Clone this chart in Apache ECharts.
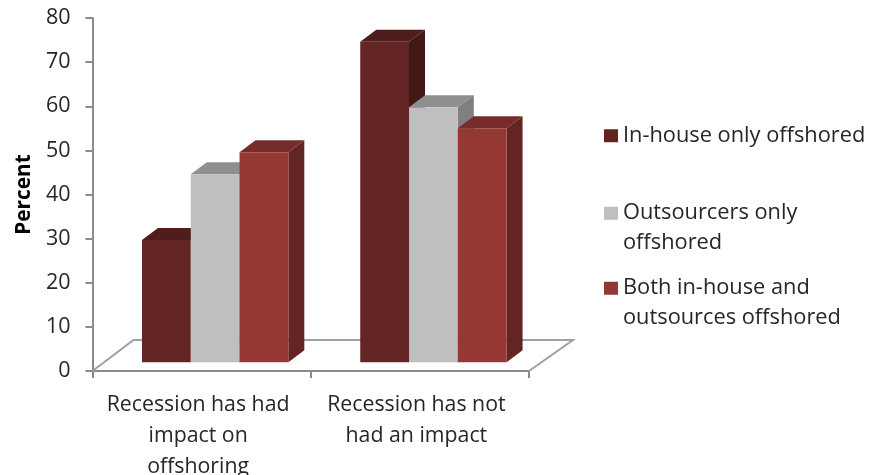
<!DOCTYPE html>
<html><head><meta charset="utf-8">
<style>html,body{margin:0;padding:0;background:#fff}#c{width:871px;height:475px}</style>
<script src="https://cdn.jsdelivr.net/npm/echarts@6/dist/echarts.min.js"></script>
</head><body><div id="c"></div>
<script>
const categories = ['Recession has had\nimpact on\noffshoring', 'Recession has not\nhad an impact'];
const seriesNames = ['In-house only offshored', 'Outsourcers only\noffshored', 'Both in-house and\noutsources offshored'];
const inHouse = [29.7, 74.6];
const outsourcers = [44.6, 59.8];
const both = [49.6, 55];
const yTicks = [0, 80, 10];
const FONT = '"Open Sans"';
const front = ['#632523', '#BFBFBF', '#953735'];
const top_ = ['#4F1D1B', '#8F8F8F', '#772C2A'];
const side = ['#431815', '#7F7F7F', '#632523'];
const BASE = 2, DX = 16, DY = 12;

function barRenderer(k) {
  return function (params, api) {
    const cat = api.value(0), v = api.value(1);
    const cw = api.size([1, 0])[0];
    const w = cw * 0.2235, off = cw * 0.062;
    const c = api.coord([cat, v]), b = api.coord([cat, BASE]);
    const x0 = c[0] + off - 1.5 * w + k * w, x1 = x0 + w, y0 = c[1], y1 = b[1];
    const poly = (points, fill) => ({ type: 'polygon', shape: { points }, style: { fill } });
    return { type: 'group', children: [
      poly([[x1, y0], [x1 + DX, y0 - DY], [x1 + DX, y1 - DY], [x1, y1]], side[k]),
      poly([[x0, y0], [x0 + DX, y0 - DY], [x1 + DX, y0 - DY], [x1, y0]], top_[k]),
      poly([[x0, y0], [x1, y0], [x1, y1], [x0, y1]], front[k])
    ] };
  };
}
function floorRenderer(params) {
  const g = params.coordSys, yb = g.y + g.height, xr = g.x + g.width;
  return { type: 'polyline', silent: true,
    shape: { points: [[g.x, yb], [g.x + 41, yb - 31], [xr + 44, yb - 31], [xr, yb]] },
    style: { fill: null, stroke: '#A0A0A0', lineWidth: 2 } };
}
function mkSeries(name, vals, k) {
  return { type: 'custom', name, clip: false, z: 3 + k, renderItem: barRenderer(k),
    itemStyle: { color: front[k] }, encode: { x: 0, y: 1 },
    data: vals.map((v, i) => [i, v]) };
}
function mkLegend(k, top) {
  return { orient: 'vertical', left: 604, top, data: [seriesNames[k]], icon: 'rect',
    itemWidth: 14, itemHeight: 13, itemGap: 0, padding: 0, selectedMode: false,
    // the leading empty line keeps the marker level with the first text line of wrapped names
    formatter: n => (n.indexOf('\n') >= 0 ? '\n' + n : n),
    textStyle: { fontFamily: FONT, fontSize: 21.8, color: '#262626', lineHeight: 29.5 } };
}
const chart = echarts.init(document.getElementById('c'), null, { renderer: 'canvas' });
chart.setOption({
  animation: false, backgroundColor: '#fff',
  grid: { left: 92.5, right: 342, top: 18, bottom: 104, outerBoundsMode: 'none' },
  legend: [mkLegend(0, 121), mkLegend(1, 169), mkLegend(2, 244)],
  xAxis: { type: 'category', data: categories, boundaryGap: true,
    axisLine: { lineStyle: { color: '#8A8A8A', width: 2 } },
    axisTick: { show: true, length: 7, alignWithLabel: false, lineStyle: { color: '#8A8A8A', width: 2 } },
    axisLabel: { fontFamily: FONT, fontSize: 21.3, color: '#262626', lineHeight: 31, margin: 18, interval: 0, padding: [0, 7, 0, 0] } },
  yAxis: { type: 'value', min: yTicks[0], max: yTicks[1], interval: yTicks[2],
    name: 'Percent', nameLocation: 'middle', nameGap: 58, nameRotate: 90,
    nameTextStyle: { fontFamily: FONT, fontSize: 20.8, fontWeight: 'bold', color: '#000' },
    axisLine: { show: true, lineStyle: { color: '#8A8A8A', width: 2 } },
    axisTick: { show: true, length: 7, lineStyle: { color: '#8A8A8A', width: 2 } },
    splitLine: { show: false },
    axisLabel: { fontFamily: FONT, fontSize: 21.5, color: '#262626', margin: 22, padding: [3, 0, 0, 0] } },
  series: [
    { type: 'custom', name: 'floor', silent: true, clip: false, z: 1, renderItem: floorRenderer, data: [[0, 0]], encode: { x: 0, y: 1 } },
    mkSeries(seriesNames[0], inHouse, 0),
    mkSeries(seriesNames[1], outsourcers, 1),
    mkSeries(seriesNames[2], both, 2)
  ]
});
</script></body></html>
